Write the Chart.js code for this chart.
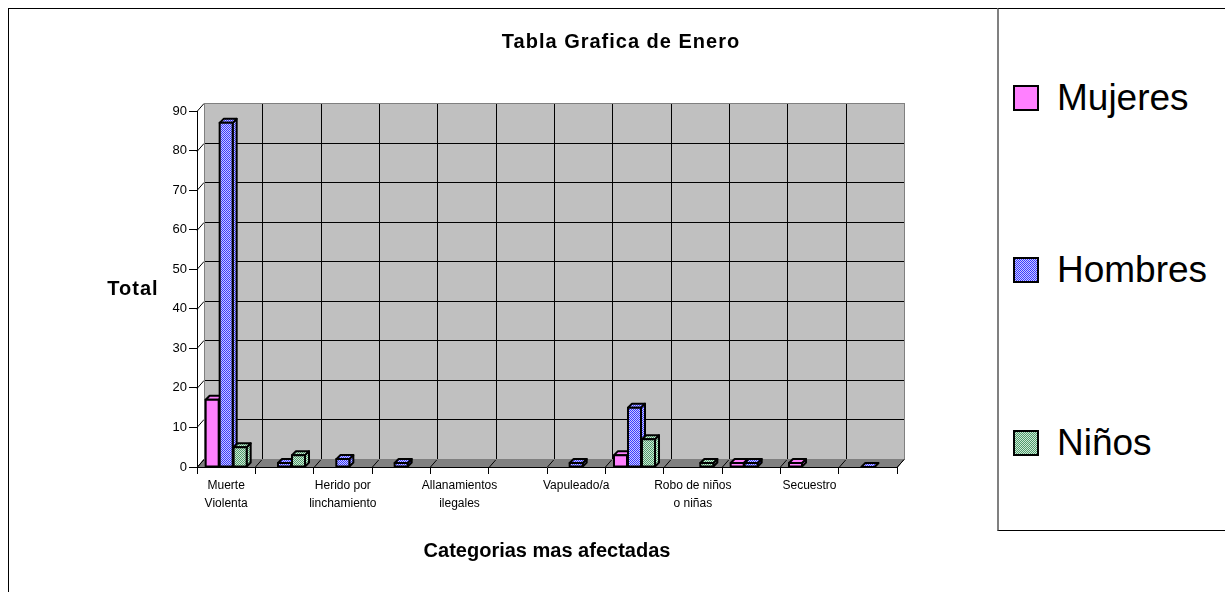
<!DOCTYPE html>
<html>
<head>
<meta charset="utf-8">
<script src="https://cdn.jsdelivr.net/npm/chart.js@4.4.1/dist/chart.umd.min.js"></script>
<style>
  body { margin: 0; background: #fff; font-family: "Liberation Sans", Arial, sans-serif; overflow: hidden; }
  #frame { position: absolute; left: 8px; top: 8px; width: 1300px; height: 600px; border: 1px solid #000; box-sizing: border-box; }
  #c { position: absolute; left: 0; top: 0; }
  #legend { position: absolute; left: 997px; top: 8px; width: 240px; height: 523px; background: #fff;
            border: 1px solid #000; border-left: 2px solid #808080; box-sizing: border-box; }
  .item { position: absolute; left: 14px; height: 44px; line-height: 44px; display: flex; align-items: center; font-size: 37px; color: #000; }
  .sw { width: 22px; height: 22px; border: 2px solid #000; margin-right: 18px; image-rendering: pixelated; }
</style>
</head>
<body>
<div id="frame"></div>
<canvas id="c" width="995" height="592"></canvas>
<div id="legend"></div>
<script>
// datos
const chartTitle = 'Tabla Grafica de Enero';
const yTitle = 'Total';
const xTitle = 'Categorias mas afectadas';
const categories = [
  ['Muerte', 'Violenta'], '', ['Herido por', 'linchamiento'], '', ['Allanamientos', 'ilegales'], '',
  'Vapuleado/a', '', ['Robo de niños', 'o niñas'], '', 'Secuestro', ''
];
const seriesNames = ['Mujeres', 'Hombres', 'Niños'];
const mujeres = [17, null, null, null, null, null, null, 3, null, 1, 1, null];
const hombres = [87, 1, 2, 1, null, null, 1, 15, null, 1, null, 0];
const ninos   = [5, 3, null, null, null, null, null, 7, 1, null, null, null];
const legendY = [98, 270, 443];

// patrones
function makePattern(a, b) {
  const p = document.createElement('canvas');
  p.width = 2; p.height = 2;
  const g = p.getContext('2d');
  g.fillStyle = b; g.fillRect(0, 0, 2, 2);
  g.fillStyle = a; g.fillRect(0, 0, 1, 1); g.fillRect(1, 1, 1, 1);
  return p;
}
const pinkFill = '#FF80FF';
const blueTile = makePattern('#3a3aff', '#c8c8ff');
const greenTile = makePattern('#4f9c6c', '#cfe8d6');
const ctx = document.getElementById('c').getContext('2d');
const fills = [pinkFill, ctx.createPattern(blueTile, 'repeat'), ctx.createPattern(greenTile, 'repeat')];
const swatches = ['#FF80FF', 'url(' + blueTile.toDataURL() + ')', 'url(' + greenTile.toDataURL() + ')'];

const DX = 7, DY = -8, BD = 4;

const walls = {
  id: 'walls',
  beforeDatasetsDraw(chart) {
    const { ctx, chartArea: a, scales: { x, y } } = chart;
    ctx.save();
    ctx.fillStyle = '#C0C0C0';
    ctx.fillRect(a.left + DX, a.top + DY, a.right - a.left, a.bottom - a.top);
    ctx.fillStyle = '#808080';
    ctx.beginPath();
    ctx.moveTo(a.left, a.bottom);
    ctx.lineTo(a.left + DX, a.bottom + DY);
    ctx.lineTo(a.right + DX, a.bottom + DY);
    ctx.lineTo(a.right, a.bottom);
    ctx.closePath();
    ctx.fill();
    ctx.strokeStyle = '#000';
    ctx.lineWidth = 1;
    y.ticks.forEach(t => {
      const py = Math.round(y.getPixelForValue(t.value)) + 0.5;
      ctx.beginPath();
      ctx.moveTo(a.left, py);
      ctx.lineTo(a.left + DX, py + DY);
      ctx.lineTo(a.right + DX, py + DY);
      ctx.stroke();
    });
    for (let i = 0; i <= categories.length; i++) {
      const px = Math.round(x.getPixelForValue(i - 0.5)) + 0.5;
      ctx.beginPath();
      ctx.moveTo(px + DX, a.top + DY);
      ctx.lineTo(px + DX, a.bottom + DY);
      ctx.lineTo(px, a.bottom);
      ctx.stroke();
    }
    ctx.strokeStyle = '#808080';
    ctx.strokeRect(a.left + DX + 0.5, a.top + DY + 0.5, a.right - a.left, a.bottom - a.top);
    ctx.strokeStyle = '#000';
    ctx.beginPath();
    ctx.moveTo(a.right, a.bottom + 0.5);
    ctx.lineTo(a.right + DX, a.bottom + DY + 0.5);
    ctx.stroke();
    ctx.restore();
  }
};

const bars3d = {
  id: 'bars3d',
  afterDatasetsDraw(chart) {
    const ctx = chart.ctx;
    ctx.save();
    ctx.lineWidth = 2;
    ctx.lineJoin = 'round';
    ctx.strokeStyle = '#000';
    chart.data.datasets.forEach((ds, di) => {
      chart.getDatasetMeta(di).data.forEach((el, i) => {
        if (ds.data[i] === null) return;
        const { x, y, base, width } = el.getProps(['x', 'y', 'base', 'width'], true);
        const l = x - width / 2, r = x + width / 2;
        ctx.fillStyle = ds.backgroundColor;
        const face = pts => {
          ctx.beginPath();
          ctx.moveTo(pts[0][0], pts[0][1]);
          pts.slice(1).forEach(p => ctx.lineTo(p[0], p[1]));
          ctx.closePath();
          ctx.fill();
          ctx.stroke();
        };
        face([[r, y], [r + BD, y - BD], [r + BD, base - BD], [r, base]]);
        face([[l, y], [l + BD, y - BD], [r + BD, y - BD], [r, y]]);
        if (base - y > 0.5) face([[l, y], [r, y], [r, base], [l, base]]);
      });
    });
    ctx.restore();
  }
};

const titles = {
  id: 'titles',
  afterDraw(chart) {
    const ctx = chart.ctx;
    ctx.save();
    ctx.fillStyle = '#000';
    ctx.font = 'bold 20px "Liberation Sans", Arial, sans-serif';
    ctx.letterSpacing = '1px';
    ctx.textAlign = 'center';
    ctx.textBaseline = 'middle';
    ctx.fillText(chartTitle, 621, 42);
    ctx.fillText(yTitle, 133, 289);
    ctx.restore();
  }
};

new Chart(ctx, {
  type: 'bar',
  data: {
    labels: categories,
    datasets: [mujeres, hombres, ninos].map((d, i) => ({
      label: seriesNames[i],
      data: d,
      backgroundColor: fills[i],
      borderColor: '#000',
      borderWidth: 2,
      categoryPercentage: 0.72,
      barPercentage: 0.93
    }))
  },
  options: {
    responsive: false,
    animation: false,
    layout: { padding: { top: 111, right: 98, left: 0, bottom: 0 } },
    plugins: { legend: { display: false }, title: { display: false }, tooltip: { enabled: false } },
    scales: {
      x: {
        grid: { drawOnChartArea: false, drawTicks: true, tickLength: 7, color: '#000', offset: true },
        border: { color: '#000', width: 1 },
        ticks: { autoSkip: false, maxRotation: 0, color: '#000', padding: 3,
                 font: { family: '"Liberation Sans", Arial, sans-serif', size: 12, lineHeight: 1.5 } },
        title: { display: true, text: xTitle, color: '#000', padding: { top: 0, bottom: 29 },
                 font: { family: '"Liberation Sans", Arial, sans-serif', size: 20, weight: 'bold' } },
        afterFit: s => { s.height = 125; }
      },
      y: {
        min: 0, max: 90,
        grid: { drawOnChartArea: false, tickLength: 8, color: '#000' },
        border: { color: '#000', width: 1 },
        ticks: { stepSize: 10, color: '#000', padding: 2,
                 font: { family: '"Liberation Sans", Arial, sans-serif', size: 13 } },
        afterFit: s => { s.width = 197; }
      }
    }
  },
  plugins: [walls, bars3d, titles]
});

// leyenda
const legend = document.getElementById('legend');
seriesNames.forEach((n, i) => {
  const it = document.createElement('div');
  it.className = 'item';
  it.style.top = (legendY[i] - 9 - 22) + 'px';
  const sw = document.createElement('div');
  sw.className = 'sw';
  sw.style.background = swatches[i];
  sw.style.backgroundSize = '2px 2px';
  it.appendChild(sw);
  it.appendChild(document.createTextNode(n));
  legend.appendChild(it);
});
</script>
</body>
</html>
